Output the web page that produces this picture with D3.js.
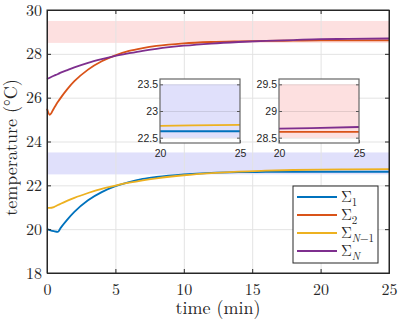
<!DOCTYPE html>
<html>
<head>
<meta charset="utf-8">
<script src="https://cdn.jsdelivr.net/npm/d3@7"></script>
<style>
  body { margin: 0; background: #fff; }
</style>
</head>
<body>
<div id="chart"></div>
<script>
// time samples (min) shared by all series
var timeMin = [0, 0.2, 0.5, 0.8, 1, 1.5, 2, 3, 4, 5, 6, 7, 8, 10, 12, 14, 16, 18, 20, 22, 25];

var sigma1 = [20.00, 19.96, 19.91, 19.88, 20.06, 20.45, 20.79, 21.32, 21.69, 21.96, 22.15, 22.29, 22.38, 22.50, 22.57, 22.60, 22.61, 22.62, 22.62, 22.62, 22.62];
var sigma2 = [25.50, 25.22, 25.51, 25.81, 25.99, 26.40, 26.75, 27.28, 27.66, 27.93, 28.13, 28.26, 28.36, 28.48, 28.54, 28.57, 28.59, 28.60, 28.61, 28.61, 28.61];
var sigmaNm1 = [20.97, 20.97, 21.01, 21.10, 21.16, 21.30, 21.43, 21.65, 21.84, 21.99, 22.12, 22.23, 22.32, 22.46, 22.56, 22.63, 22.67, 22.70, 22.72, 22.73, 22.74];
var sigmaN = [26.85, 26.91, 27.00, 27.08, 27.14, 27.26, 27.38, 27.59, 27.76, 27.91, 28.03, 28.14, 28.23, 28.37, 28.47, 28.54, 28.59, 28.63, 28.67, 28.68, 28.70];

// comfort bands (deg C)
var bandLow = [22.5, 23.5];
var bandHigh = [28.5, 29.5];

var xTicks = [0, 5, 10, 15, 20, 25];
var yTicks = [18, 20, 22, 24, 26, 28, 30];
var insetLowTicks = [22.5, 23, 23.5];
var insetHighTicks = [28.5, 29, 29.5];
var insetXTicks = [20, 25];

var seriesNames = ["1", "2", "N-1", "N"];
var seriesColors = ["#0072BD", "#D95319", "#EDB120", "#7E2F8E"];
var seriesValues = [sigma1, sigma2, sigmaNm1, sigmaN];

var serifFont = "'Latin Modern Roman', 'Liberation Serif', serif";
var sansFont = "'Liberation Sans', 'DejaVu Sans', sans-serif";

var svgWidth = 400, svgHeight = 320;
var margin = {top: 10, right: 11, bottom: 47, left: 47};
var width = svgWidth - margin.left - margin.right;
var height = svgHeight - margin.top - margin.bottom;

var svg = d3.select("#chart").append("svg")
  .attr("width", svgWidth)
  .attr("height", svgHeight);

var chartGroup = svg.append("g")
  .attr("transform", `translate(${margin.left}, ${margin.top})`);

var xScale = d3.scaleLinear().domain([0, 25]).range([0, width]);
var yScale = d3.scaleLinear().domain([18, 30]).range([height, 0]);

// bands
chartGroup.append("rect")
  .attr("x", xScale(0)).attr("width", xScale(25) - xScale(0))
  .attr("y", yScale(bandHigh[1])).attr("height", yScale(bandHigh[0]) - yScale(bandHigh[1]))
  .attr("fill", "rgb(253,224,224)");
chartGroup.append("rect")
  .attr("x", xScale(0)).attr("width", xScale(25) - xScale(0))
  .attr("y", yScale(bandLow[1])).attr("height", yScale(bandLow[0]) - yScale(bandLow[1]))
  .attr("fill", "rgb(224,224,251)");

// grid
chartGroup.append("g")
  .attr("transform", `translate(0, ${height})`)
  .call(d3.axisBottom(xScale).tickValues(xTicks).tickSize(-height).tickFormat(""))
  .call(g => g.select(".domain").remove())
  .selectAll("line").attr("stroke", "#e3e3e3");
chartGroup.append("g")
  .call(d3.axisLeft(yScale).tickValues(yTicks).tickSize(-width).tickFormat(""))
  .call(g => g.select(".domain").remove())
  .selectAll("line").attr("stroke", "#e3e3e3");

// lines
var line = d3.line()
  .x((d, i) => xScale(timeMin[i]))
  .y(d => yScale(d))
  .curve(d3.curveMonotoneX);

seriesValues.forEach(function(vals, k) {
  chartGroup.append("path")
    .datum(vals)
    .attr("fill", "none")
    .attr("stroke", seriesColors[k])
    .attr("stroke-width", 1.8)
    .attr("d", line);
});

// axes with inward ticks
var bottomAxis = d3.axisBottom(xScale).tickValues(xTicks).tickSize(-4).tickPadding(11);
var leftAxis = d3.axisLeft(yScale).tickValues(yTicks).tickSize(-4).tickPadding(5);

var gx = chartGroup.append("g")
  .attr("transform", `translate(0, ${height})`)
  .call(bottomAxis);
var gy = chartGroup.append("g").call(leftAxis);
var gt = chartGroup.append("g")
  .call(d3.axisTop(xScale).tickValues(xTicks).tickSize(-4).tickFormat(""));
var gr = chartGroup.append("g")
  .attr("transform", `translate(${width}, 0)`)
  .call(d3.axisRight(yScale).tickValues(yTicks).tickSize(-4).tickFormat(""));

[gx, gy, gt, gr].forEach(function(a) {
  a.selectAll(".domain, .tick line").attr("stroke", "#262626");
  a.selectAll("text")
    .style("font-family", serifFont)
    .style("font-size", "16px")
    .attr("fill", "#262626");
});

chartGroup.append("rect")
  .attr("width", width).attr("height", height)
  .attr("fill", "none").attr("stroke", "#262626").attr("stroke-width", 1);

// axis labels
chartGroup.append("text")
  .attr("transform", `translate(${-30}, ${height / 2 + 6}) rotate(-90)`)
  .attr("text-anchor", "middle")
  .style("font-family", serifFont)
  .style("font-size", "18px")
  .attr("fill", "#262626")
  .text("temperature (°C)");

chartGroup.append("text")
  .attr("x", width / 2)
  .attr("y", height + 41)
  .attr("text-anchor", "middle")
  .style("font-family", serifFont)
  .style("font-size", "18px")
  .attr("fill", "#262626")
  .text("time (min)");

// legend
var legend = chartGroup.append("g")
  .attr("transform", `translate(${246}, ${176})`);
legend.append("rect")
  .attr("width", 85).attr("height", 77)
  .attr("fill", "#fff").attr("stroke", "#262626").attr("stroke-width", 1);

seriesNames.forEach(function(name, k) {
  var yy = 11 + k * 18;
  legend.append("line")
    .attr("x1", 4).attr("x2", 44).attr("y1", yy).attr("y2", yy)
    .attr("stroke", seriesColors[k]).attr("stroke-width", 1.8);
  var t = legend.append("text")
    .attr("x", 48).attr("y", yy + 5)
    .style("font-family", serifFont)
    .style("font-size", "15px")
    .attr("fill", "#262626");
  t.append("tspan").text("Σ");
  var sub = t.append("tspan").attr("dy", 4).style("font-size", "11px");
  if (name === "N-1") {
    sub.append("tspan").style("font-style", "italic").text("N");
    sub.append("tspan").text("−1");
  } else if (name === "N") {
    sub.append("tspan").style("font-style", "italic").text("N");
  } else {
    sub.text(name);
  }
});

// insets
function drawInset(x0, band, ticks, which, fillColor) {
  var iw = 80, ih = 64;
  var g = svg.append("g")
    .attr("transform", `translate(${x0}, ${79})`);
  var ix = d3.scaleLinear().domain([20, 25]).range([0, iw]);
  var iy = d3.scaleLinear().domain([band[0] - 0.1, band[1] + 0.1]).range([ih, 0]);

  g.append("rect").attr("width", iw).attr("height", ih).attr("fill", "#fff");
  g.append("rect")
    .attr("x", 0).attr("width", iw)
    .attr("y", iy(band[1])).attr("height", iy(band[0]) - iy(band[1]))
    .attr("fill", fillColor);

  g.append("g")
    .call(d3.axisLeft(iy).tickValues(ticks).tickSize(-iw).tickFormat(""))
    .call(a => a.select(".domain").remove())
    .selectAll("line").attr("stroke", "#000").attr("stroke-opacity", 0.1);

  var iline = d3.line()
    .x(d => ix(d[0]))
    .y(d => iy(d[1]));

  which.forEach(function(k) {
    var pts = timeMin.map((t, i) => [t, seriesValues[k][i]]).filter(p => p[0] >= 20);
    g.append("path")
      .datum(pts)
      .attr("fill", "none")
      .attr("stroke", seriesColors[k])
      .attr("stroke-width", 1.8)
      .attr("d", iline);
  });

  var ly = g.append("g").call(d3.axisLeft(iy).tickValues(ticks).tickSize(-3).tickPadding(2)
    .tickFormat(d3.format("")));
  var lx = g.append("g").attr("transform", `translate(0, ${ih})`)
    .call(d3.axisBottom(ix).tickValues(insetXTicks).tickSize(-3).tickPadding(7)
      .tickFormat(d3.format("d")));
  var rx = g.append("g").attr("transform", `translate(${iw}, 0)`)
    .call(d3.axisRight(iy).tickValues(ticks).tickSize(-3).tickFormat(""));
  g.selectAll(".domain").remove();
  [ly, lx, rx].forEach(function(a) {
    a.selectAll(".tick line").attr("stroke", "#555");
    a.selectAll("text")
      .style("font-family", sansFont)
      .style("font-size", "10.5px")
      .attr("fill", "#262626");
  });

  g.append("rect").attr("width", iw).attr("height", ih)
    .attr("fill", "none").attr("stroke", "#666").attr("stroke-width", 1.2);
}

drawInset(160, bandLow, insetLowTicks, [0, 2], "rgb(224,224,251)");
drawInset(279, bandHigh, insetHighTicks, [1, 3], "rgb(253,224,224)");
</script>
</body>
</html>
